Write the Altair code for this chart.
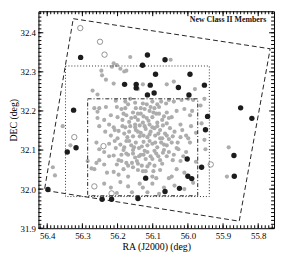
import altair as alt
import pandas as pd

# ---- data (RA, Dec in degrees) ----
gray_points = [
    (56.164, 32.338), (56.211, 32.322), (56.202, 32.317), (56.216, 32.313), (56.192, 32.308),
    (56.181, 32.301), (56.175, 32.303), (56.246, 32.303), (56.244, 32.291), (56.233, 32.280),
    (56.211, 32.270), (56.271, 32.252), (56.257, 32.242), (56.049, 32.331), (56.128, 32.268),
    (56.060, 32.268), (56.040, 32.275), (56.142, 32.256), (55.953, 32.231), (55.980, 32.256),
    (56.164, 32.231), (56.178, 32.224), (56.205, 32.226), (56.150, 32.221), (56.170, 32.217),
    (56.128, 32.219), (56.117, 32.217), (56.101, 32.224), (56.087, 32.217), (56.076, 32.224),
    (56.062, 32.219), (56.054, 32.228), (56.040, 32.224), (56.018, 32.228), (55.999, 32.231),
    (55.985, 32.228), (56.266, 32.207), (56.252, 32.207), (56.233, 32.210), (56.202, 32.210),
    (56.189, 32.205), (56.178, 32.207), (56.123, 32.205), (56.109, 32.200), (56.095, 32.207),
    (56.082, 32.210), (56.257, 32.198), (56.219, 32.189), (56.200, 32.184), (56.186, 32.177),
    (56.175, 32.189), (56.161, 32.182), (56.150, 32.184), (56.142, 32.193), (56.257, 32.182),
    (56.117, 32.182), (56.101, 32.184), (56.128, 32.170), (56.109, 32.165), (56.087, 32.170),
    (56.073, 32.177), (56.054, 32.182), (56.046, 32.184), (56.021, 32.165), (55.994, 32.189),
    (56.090, 32.193), (56.060, 32.196), (56.032, 32.200), (56.010, 32.205), (55.988, 32.200),
    (56.238, 32.177), (56.134, 32.193), (56.252, 32.161), (56.224, 32.165), (56.211, 32.158),
    (56.178, 32.158), (56.164, 32.161), (56.150, 32.165), (55.991, 32.161), (56.356, 32.161),
    (56.197, 32.149), (56.181, 32.142), (56.167, 32.147), (56.148, 32.151), (56.134, 32.144),
    (56.120, 32.154), (56.106, 32.147), (56.095, 32.156), (56.079, 32.151), (56.065, 32.142),
    (56.051, 32.156), (56.038, 32.147), (56.016, 32.151), (56.005, 32.137), (56.235, 32.147),
    (56.219, 32.137), (56.137, 32.135), (56.115, 32.133), (56.093, 32.137), (56.021, 32.133),
    (55.999, 32.130), (56.073, 32.130), (55.977, 32.144), (56.334, 32.112), (56.260, 32.119),
    (56.252, 32.102), (56.238, 32.095), (56.224, 32.116), (56.208, 32.123), (56.192, 32.114),
    (56.175, 32.123), (56.161, 32.112), (56.148, 32.119), (56.139, 32.105), (56.126, 32.121),
    (56.115, 32.112), (56.101, 32.116), (56.087, 32.107), (56.076, 32.119), (56.060, 32.112),
    (56.046, 32.119), (56.032, 32.105), (55.994, 32.119), (56.027, 32.102), (55.953, 32.126),
    (55.950, 32.102), (55.884, 32.107), (56.183, 32.100), (56.156, 32.100), (56.123, 32.098),
    (56.095, 32.098), (56.068, 32.100), (56.005, 32.095), (56.224, 32.084), (56.211, 32.086),
    (56.197, 32.074), (56.189, 32.072), (56.202, 32.063), (56.252, 32.074), (56.260, 32.067),
    (56.285, 32.072), (56.170, 32.088), (56.150, 32.081), (56.134, 32.088), (56.120, 32.077),
    (56.106, 32.084), (56.090, 32.091), (56.079, 32.074), (56.060, 32.084), (56.040, 32.088),
    (56.021, 32.072), (56.142, 32.065), (56.109, 32.065), (56.073, 32.065), (56.175, 32.067),
    (56.238, 32.063), (55.977, 32.070), (56.384, 32.056), (56.378, 32.035), (56.274, 32.053),
    (56.266, 32.051), (56.211, 32.044), (56.197, 32.037), (56.170, 32.032), (56.156, 32.056),
    (56.142, 32.049), (56.101, 32.032), (56.090, 32.028), (56.046, 32.032), (56.054, 32.028),
    (55.889, 32.032), (56.128, 32.046), (56.079, 32.049), (56.032, 32.051), (56.010, 32.042),
    (56.230, 32.042), (56.183, 32.051), (56.115, 32.058), (56.128, 32.004), (56.137, 32.014),
    (56.068, 32.004), (55.985, 32.016), (56.238, 32.014), (56.219, 32.004), (56.192, 32.018),
    (56.170, 32.007), (56.101, 32.014), (56.038, 32.009), (56.010, 32.000), (56.159, 31.992),
    (56.115, 31.992), (56.202, 31.990), (56.082, 31.988), (55.961, 32.168), (55.964, 32.214),
    # dense core
    (56.156, 32.196), (56.142, 32.177), (56.126, 32.186), (56.112, 32.175), (56.098, 32.196),
    (56.167, 32.172), (56.150, 32.158), (56.137, 32.163), (56.123, 32.161), (56.101, 32.158),
    (56.087, 32.161), (56.071, 32.163), (56.060, 32.168), (56.156, 32.135), (56.142, 32.147),
    (56.126, 32.137), (56.109, 32.140), (56.084, 32.142), (56.060, 32.137), (56.172, 32.133),
    (56.186, 32.161), (56.200, 32.130), (56.181, 32.107), (56.167, 32.123), (56.153, 32.107),
    (56.131, 32.109), (56.109, 32.123), (56.093, 32.119), (56.079, 32.130), (56.068, 32.114),
    (56.054, 32.128), (56.175, 32.091), (56.156, 32.091), (56.139, 32.084), (56.126, 32.088),
    (56.115, 32.095), (56.101, 32.077), (56.084, 32.084), (56.071, 32.093), (56.054, 32.095),
    (56.145, 32.072), (56.131, 32.060), (56.095, 32.060), (56.159, 32.067), (56.170, 32.060),
    (56.120, 32.046), (56.098, 32.046), (56.189, 32.088), (56.205, 32.105), (56.082, 32.193),
    (56.068, 32.186), (56.106, 32.210), (56.134, 32.207), (56.148, 32.207), (56.183, 32.193),
    (56.043, 32.135), (56.029, 32.119), (56.043, 32.074), (56.013, 32.084), (56.208, 32.151),
]

black_points = [
    (56.305, 32.337), (56.325, 32.202), (56.180, 32.268), (56.147, 32.268), (56.147, 32.259),
    (56.115, 32.343), (56.065, 32.331), (56.129, 32.317), (56.092, 32.294), (55.994, 32.294),
    (56.107, 32.266), (56.115, 32.241), (56.096, 32.246), (56.027, 32.260), (55.997, 32.241),
    (55.953, 32.266), (55.850, 32.208), (55.818, 32.181), (55.944, 32.186), (55.950, 32.152),
    (56.343, 32.095), (56.318, 32.106), (56.398, 31.999), (56.244, 31.974), (56.217, 31.974),
    (56.142, 31.976), (56.002, 32.077), (55.961, 32.056), (55.869, 32.086), (55.868, 32.033),
    (56.120, 32.028), (56.000, 32.033), (55.989, 32.027), (56.024, 32.002), (56.065, 31.994),
]

open_points = [
    (56.306, 32.412), (56.250, 32.377), (56.237, 32.344), (56.323, 32.133),
    (56.240, 32.110), (56.266, 32.007), (56.217, 31.989), (55.935, 32.063),
]

# survey footprints (closed outlines)
outer_ra = [56.326, 55.766, 55.854, 56.408, 56.326]
outer_dec = [32.436, 32.359, 31.918, 31.997, 32.436]
dotted_ra = [56.348, 55.939, 55.939, 56.348, 56.348]
dotted_dec = [32.315, 32.315, 31.981, 31.981, 32.315]
dashdot_ra = [56.285, 55.972, 55.972, 56.285, 56.285]
dashdot_dec = [32.231, 32.231, 31.983, 31.983, 32.231]

label_text = ["New Class II Members"]
label_ra = [55.777]
label_dec = [32.432]

x_major = [56.4, 56.3, 56.2, 56.1, 56.0, 55.9, 55.8]
x_minor = [round(55.76 + 0.01 * i, 2) for i in range(67)]
y_major = [31.9, 32.0, 32.1, 32.2, 32.3, 32.4]
y_minor = [round(31.90 + 0.01 * i, 2) for i in range(56)]

W, H = 240, 221
MAJ, MIN = 5, 3

# ---- frames ----
gray_df = pd.DataFrame(gray_points, columns=["ra", "dec"])
black_df = pd.DataFrame(black_points, columns=["ra", "dec"])
open_df = pd.DataFrame(open_points, columns=["ra", "dec"])


def outline(ras, decs):
    return pd.DataFrame({"ra": ras, "dec": decs, "k": list(range(len(ras)))})


xs = alt.Scale(domain=[55.755, 56.425], reverse=True, nice=False, zero=False)
ys = alt.Scale(domain=[31.9, 32.455], nice=False, zero=False)

x_axis = alt.Axis(orient="bottom", values=x_major, format=".1f", ticks=False, domain=False, grid=False,
                  labelPadding=3, title="RA (J2000) (deg)", titlePadding=2, labelFlush=False)
y_axis = alt.Axis(orient="left", values=y_major, format=".1f", ticks=False, domain=False, grid=False,
                  labelPadding=3, title="DEC (deg)", titlePadding=2, labelFlush=False)


def X(field):
    return alt.X(field, scale=xs, axis=x_axis)


def Y(field):
    return alt.Y(field, scale=ys, axis=y_axis)


gray_layer = alt.Chart(gray_df).mark_circle(size=18, color="#adadad", opacity=1).encode(
    x=X("ra:Q"), y=Y("dec:Q"))


def line_layer(ras, decs, dash, color):
    return alt.Chart(outline(ras, decs)).mark_line(color=color, strokeWidth=1, strokeDash=dash).encode(
        x=X("ra:Q"), y=Y("dec:Q"), order="k:Q")


outer_layer = line_layer(outer_ra, outer_dec, [5, 3], "#222222")
dotted_layer = line_layer(dotted_ra, dotted_dec, [1, 2], "#333333")
dashdot_layer = line_layer(dashdot_ra, dashdot_dec, [4, 2, 1, 2], "#222222")

black_layer = alt.Chart(black_df).mark_circle(size=30, color="#1c1c1c", opacity=1).encode(
    x=X("ra:Q"), y=Y("dec:Q"))

open_layer = alt.Chart(open_df).mark_point(
    shape="circle", size=30, filled=False, color="#444444", strokeWidth=0.8).encode(
    x=X("ra:Q"), y=Y("dec:Q"))

text_layer = alt.Chart(pd.DataFrame({"ra": label_ra, "dec": label_dec, "t": label_text})).mark_text(
    align="right", baseline="middle", font="Liberation Serif", fontSize=8, fontWeight="bold",
    color="#111111").encode(x=X("ra:Q"), y=Y("dec:Q"), text="t:N")


# inward tick marks on all four sides
def xticks(vals, y0, y1):
    return alt.Chart(pd.DataFrame({"ra": vals})).mark_rule(color="#000000", strokeWidth=1).encode(
        x=X("ra:Q"), y=alt.value(y0), y2=alt.value(y1))


def yticks(vals, x0, x1):
    return alt.Chart(pd.DataFrame({"dec": vals})).mark_rule(color="#000000", strokeWidth=1).encode(
        y=Y("dec:Q"), x=alt.value(x0), x2=alt.value(x1))


tick_layers = [
    xticks(x_major, H, H - MAJ), xticks(x_minor, H, H - MIN),
    xticks(x_major, 0, MAJ), xticks(x_minor, 0, MIN),
    yticks(y_major, 0, MAJ), yticks(y_minor, 0, MIN),
    yticks(y_major, W, W - MAJ), yticks(y_minor, W, W - MIN),
]

chart = alt.layer(
    gray_layer, outer_layer, dotted_layer, dashdot_layer, black_layer, open_layer, text_layer,
    *tick_layers
).properties(
    width=W, height=H,
    autosize=alt.AutoSizeParams(type="none"),
    padding={"left": 31, "top": 1, "right": 2, "bottom": 27},
).configure_view(stroke="#000000", strokeWidth=1).configure_axis(
    labelFont="Liberation Serif", titleFont="Liberation Serif", labelFontSize=9, titleFontSize=10,
    titleFontWeight="normal", labelColor="#000000", titleColor="#000000",
)

chart.save("out.html", embed_options={"renderer": "svg", "actions": False})
